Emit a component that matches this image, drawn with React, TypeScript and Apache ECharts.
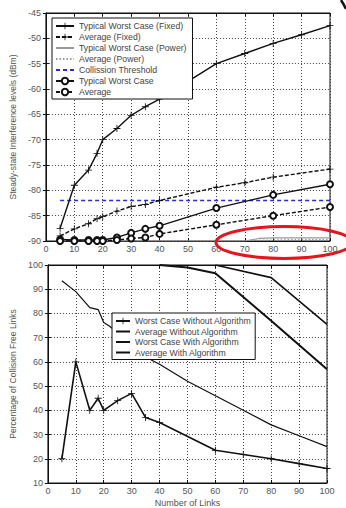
import React, { useEffect, useRef } from "react";
import * as echarts from "echarts";

// ---- Top chart data (Steady-state interference levels, dBm) ----
const xWorstFixed = [5, 10, 15, 18, 20, 25, 30, 35, 40, 60, 70, 80, 90, 100];
const yWorstFixed = [-87.5, -79, -76, -72.7, -70, -67.8, -65.2, -63.5, -62, -55, -53, -51, -49.3, -47.5];
const xAvgFixed = [5, 10, 15, 18, 20, 25, 30, 35, 40, 60, 70, 80, 100];
const yAvgFixed = [-89, -87.6, -86.6, -85.6, -85.2, -84.1, -83.2, -82.8, -82, -79.4, -78.5, -77.4, -75.8];
const xWorstPower = [5, 20, 40, 60, 70, 75, 80, 90, 100];
const yWorstPower = [-90, -90, -90, -90, -90, -89.5, -89.4, -89.4, -89.4];
const xAvgPower = [5, 40, 60, 80, 90, 100];
const yAvgPower = [-90, -90, -90, -89.8, -89.7, -89.7];
const xThreshold = [5, 100];
const yThreshold = [-82, -82];
const xWorst = [5, 10, 15, 18, 20, 25, 30, 35, 40, 60, 80, 100];
const yWorst = [-89.7, -89.8, -89.8, -89.8, -89.8, -89.3, -88.4, -87.6, -87, -83.5, -80.9, -78.8];
const xAvg = [5, 10, 15, 18, 20, 25, 30, 35, 40, 60, 80, 100];
const yAvg = [-90, -90, -90, -90, -90, -89.8, -89.5, -89.3, -88.6, -86.8, -85, -83.3];

// ---- Bottom chart data (Percentage of collision free links) ----
const xWorstNoAlg = [5, 10, 15, 18, 20, 25, 30, 35, 40, 60, 70, 80, 90, 100];
const yWorstNoAlg = [20, 60, 40, 45, 40, 44, 47, 37, 35, 23.5, 21.8, 20, 18, 16];
const xAvgNoAlg = [5, 10, 15, 18, 20, 22, 25, 30, 35, 40, 50, 60, 70, 80, 90, 100];
const yAvgNoAlg = [93.5, 89, 82.4, 81.6, 76.3, 74.8, 72, 67, 62, 59, 52, 46, 40, 34, 29.5, 25];
const xWorstAlg = [40, 50, 60, 80, 100];
const yWorstAlg = [100, 99, 96.6, 77, 57];
const xAvgAlg = [60, 80, 100];
const yAvgAlg = [100, 94.8, 75.5];

const topNames = [
  "Typical Worst Case (Fixed)",
  "Average (Fixed)",
  "Typical Worst Case (Power)",
  "Average (Power)",
  "Collission Threshold",
  "Typical Worst Case",
  "Average",
];
const bottomNames = [
  "Worst Case Without Algorithm",
  "Average Without Algorithm",
  "Worst Case With Algorithm",
  "Average With Algorithm",
];

const pairs = (xs: number[], ys: number[]) => xs.map((x, i) => [x, ys[i]]);

const PLUS = "path://M4.4,0H5.6V4.4H10V5.6H5.6V10H4.4V5.6H0V4.4H4.4Z";
// practically invisible marker: keeps the legend icon a plain line
const NOMARK = "path://M0,0h0.01v0.01h-0.01z M10,10h0.01v0.01h-0.01z";
const FONT = "Liberation Sans, Arial, sans-serif";

export default function App() {
  const ref = useRef<HTMLDivElement>(null);
  useEffect(() => {
    if (!ref.current) return;
    const chart = echarts.init(ref.current, undefined, { renderer: "svg" });

    const tickLabel = { fontSize: 9, color: "#555", fontFamily: FONT };
    const splitLine = { show: true, lineStyle: { color: "#444", type: [1, 2] as any, width: 1 } };
    const axisLine = { show: true, lineStyle: { color: "#111", width: 1 } };
    const tick = { show: true, inside: true, length: 3, lineStyle: { color: "#111" } };

    const mainX = (gridIndex: number, name?: string) => ({
      type: "value",
      gridIndex,
      min: 0,
      max: 100,
      interval: 10,
      axisLine,
      axisTick: tick,
      axisLabel: { ...tickLabel, margin: 3 },
      splitLine,
      name,
      nameLocation: "middle",
      nameGap: 15,
      nameTextStyle: { fontSize: 9, color: "#555", fontFamily: FONT },
    });
    const topX = (gridIndex: number) => ({
      type: "value",
      gridIndex,
      position: "top",
      min: 0,
      max: 100,
      interval: 10,
      axisLine,
      axisTick: tick,
      axisLabel: { show: false },
      splitLine: { show: false },
    });
    const mainY = (gridIndex: number, min: number, max: number, interval: number, name: string, gap: number) => ({
      type: "value",
      gridIndex,
      min,
      max,
      interval,
      axisLine,
      axisTick: tick,
      axisLabel: { ...tickLabel, margin: 5 },
      splitLine,
      name,
      nameLocation: "middle",
      nameGap: gap,
      nameTextStyle: { fontSize: 8.5, color: "#555", fontFamily: FONT },
    });
    const rightY = (gridIndex: number, min: number, max: number, interval: number) => ({
      type: "value",
      gridIndex,
      position: "right",
      min,
      max,
      interval,
      axisLine,
      axisTick: tick,
      axisLabel: { show: false },
      splitLine: { show: false },
    });

    const line = (
      name: string,
      xs: number[],
      ys: number[],
      axis: number,
      opts: { color?: string; width?: number; type?: any; symbol?: string; symbolSize?: number }
    ) => {
      const color = opts.color || "#111";
      const empty = opts.symbol === "emptyCircle";
      return {
        type: "line",
        name,
        xAxisIndex: axis,
        yAxisIndex: axis,
        data: pairs(xs, ys),
        symbol: opts.symbol || NOMARK,
        symbolSize: opts.symbolSize || 7,
        showSymbol: !!opts.symbol,
        lineStyle: { color, width: opts.width || 1.2, type: opts.type || "solid" },
        itemStyle: {
          color,
          borderColor: color,
          borderWidth: empty ? 1.3 : 0,
        },
        emphasis: { disabled: true },
      };
    };

    const legendBase = {
      orient: "vertical",
      itemHeight: 8,
      backgroundColor: "#fff",
      borderColor: "#111",
      borderWidth: 1,
      borderRadius: 0,
      selectedMode: false,
    };

    chart.setOption({
      animation: false,
      backgroundColor: "#fff",
      textStyle: { fontFamily: FONT },
      grid: [
        { left: 38, top: 13, width: 292, height: 228, show: true, borderColor: "#111", borderWidth: 1, backgroundColor: "#fff" },
        { left: 45, top: 265, width: 282, height: 221, show: true, borderColor: "#111", borderWidth: 1, backgroundColor: "#fff" },
      ],
      xAxis: [mainX(0), mainX(1, "Number of Links"), topX(0), topX(1)],
      yAxis: [
        mainY(0, -90, -45, 5, "Steady-state Interference levels (dBm)", 21),
        mainY(1, 10, 100, 10, "Percentage of Collision Free Links", 23),
        rightY(0, -90, -45, 5),
        rightY(1, 10, 100, 10),
      ],
      legend: [
        {
          ...legendBase,
          data: topNames,
          left: 52,
          top: 18,
          itemWidth: 18,
          itemGap: 1,
          padding: [3, 6, 2, 3],
          textStyle: { fontSize: 8.7, lineHeight: 10, color: "#444", fontFamily: FONT },
        },
        {
          ...legendBase,
          data: bottomNames,
          left: 112,
          top: 313,
          itemWidth: 14,
          itemGap: 0.5,
          padding: [3, 4, 2, 3],
          textStyle: { fontSize: 8.7, lineHeight: 10, color: "#444", fontFamily: FONT },
        },
      ],
      series: [
        line(topNames[2], xWorstPower, yWorstPower, 0, { color: "#999", width: 1.2 }),
        line(topNames[3], xAvgPower, yAvgPower, 0, { color: "#999", width: 1.2, type: [1.5, 2] }),
        line(topNames[4], xThreshold, yThreshold, 0, { color: "#2b2bd9", width: 1.5, type: [4, 3] }),
        line(topNames[0], xWorstFixed, yWorstFixed, 0, { width: 1.4, symbol: PLUS, symbolSize: 7 }),
        line(topNames[1], xAvgFixed, yAvgFixed, 0, { width: 1.4, type: [4, 2], symbol: PLUS, symbolSize: 7 }),
        line(topNames[5], xWorst, yWorst, 0, { width: 1.4, symbol: "emptyCircle", symbolSize: 6 }),
        line(topNames[6], xAvg, yAvg, 0, { width: 1.4, type: [4, 2], symbol: "emptyCircle", symbolSize: 6 }),
        line(bottomNames[0], xWorstNoAlg, yWorstNoAlg, 1, { width: 1.6, symbol: PLUS, symbolSize: 7 }),
        line(bottomNames[1], xAvgNoAlg, yAvgNoAlg, 1, { width: 1.2 }),
        line(bottomNames[2], xWorstAlg, yWorstAlg, 1, { width: 2 }),
        line(bottomNames[3], xAvgAlg, yAvgAlg, 1, { width: 1.6 }),
      ],
      graphic: [
        {
          type: "ellipse",
          shape: { cx: 284, cy: 242.5, rx: 68, ry: 16 },
          style: { fill: "none", stroke: "#e8141c", lineWidth: 3 },
          z: 100,
        },
        {
          type: "bezierCurve",
          shape: { x1: 341, y1: 0, x2: 346, y2: 9, cpx1: 343, cpy1: 3 },
          style: { fill: "none", stroke: "#111", lineWidth: 2.5 },
          z: 100,
        },
      ],
    });
    return () => chart.dispose();
  }, []);
  return (
    <div
      ref={ref}
      style={{ position: "absolute", left: 0, top: 0, width: 346, height: 508, background: "#fff" }}
    />
  );
}
